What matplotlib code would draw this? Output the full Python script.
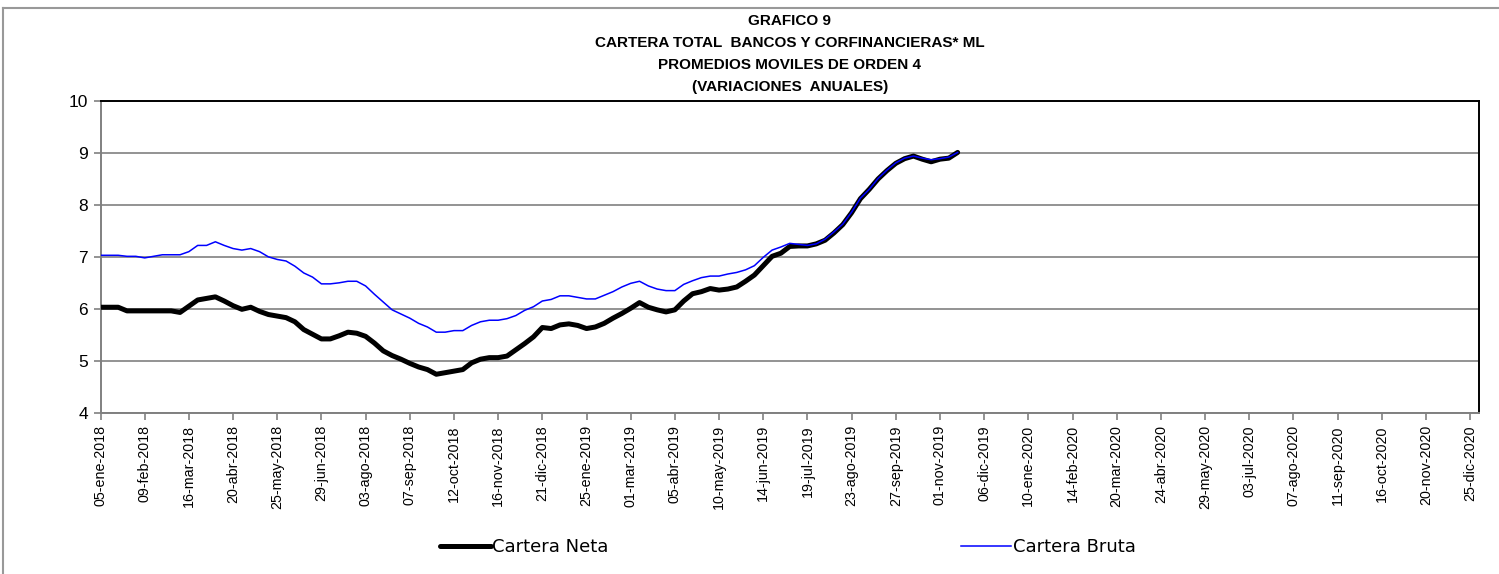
import matplotlib
matplotlib.use("Agg")
import matplotlib.pyplot as plt
from matplotlib.lines import Line2D

# weekly data, first week 05-ene-2018 (index 0), last 22-nov-2019
cartera_neta = [
    6.03, 6.03, 6.03, 5.96, 5.96, 5.96, 5.96, 5.96, 5.96, 5.93,
    6.05, 6.17, 6.20, 6.23, 6.15, 6.06, 5.99, 6.03, 5.95, 5.89,
    5.86, 5.83, 5.75, 5.60, 5.51, 5.42, 5.42, 5.48, 5.55, 5.53,
    5.47, 5.34, 5.19, 5.10, 5.03, 4.95, 4.88, 4.83, 4.74, 4.77,
    4.80, 4.83, 4.96, 5.03, 5.06, 5.06, 5.09, 5.21, 5.33, 5.46,
    5.64, 5.62, 5.69, 5.71, 5.68, 5.62, 5.65, 5.72, 5.82, 5.91,
    6.01, 6.12, 6.03, 5.98, 5.94, 5.98, 6.15, 6.29, 6.33, 6.39,
    6.36, 6.38, 6.42, 6.53, 6.65, 6.83, 7.01, 7.07, 7.20, 7.21,
    7.21, 7.25, 7.32, 7.46, 7.62, 7.85, 8.12, 8.30, 8.50, 8.66,
    8.80, 8.89, 8.94, 8.88, 8.83, 8.88, 8.90, 9.01,
]
cartera_bruta = [
    7.03, 7.03, 7.03, 7.01, 7.01, 6.98, 7.01, 7.04, 7.04, 7.04,
    7.10, 7.22, 7.22, 7.29, 7.22, 7.16, 7.13, 7.16, 7.10, 7.00,
    6.95, 6.92, 6.82, 6.69, 6.61, 6.48, 6.48, 6.50, 6.53, 6.53,
    6.44, 6.28, 6.13, 5.98, 5.90, 5.82, 5.72, 5.65, 5.55, 5.55,
    5.58, 5.58, 5.68, 5.75, 5.78, 5.78, 5.81, 5.87, 5.97, 6.04,
    6.15, 6.18, 6.25, 6.25, 6.22, 6.19, 6.19, 6.26, 6.33, 6.42,
    6.49, 6.53, 6.44, 6.38, 6.35, 6.35, 6.47, 6.54, 6.60, 6.63,
    6.63, 6.67, 6.70, 6.75, 6.83, 6.99, 7.13, 7.19, 7.26, 7.24,
    7.22, 7.25, 7.34, 7.48, 7.63, 7.86, 8.13, 8.30, 8.51, 8.67,
    8.81, 8.90, 8.94, 8.90, 8.87, 8.89, 8.92, 9.01,
]

# category axis labels, one every 5 weeks
tick_labels = [
    "05-ene-2018", "09-feb-2018", "16-mar-2018", "20-abr-2018", "25-may-2018",
    "29-jun-2018", "03-ago-2018", "07-sep-2018", "12-oct-2018", "16-nov-2018",
    "21-dic-2018", "25-ene-2019", "01-mar-2019", "05-abr-2019", "10-may-2019",
    "14-jun-2019", "19-jul-2019", "23-ago-2019", "27-sep-2019", "01-nov-2019",
    "06-dic-2019", "10-ene-2020", "14-feb-2020", "20-mar-2020", "24-abr-2020",
    "29-may-2020", "03-jul-2020", "07-ago-2020", "11-sep-2020", "16-oct-2020",
    "20-nov-2020", "25-dic-2020",
]
n_weeks = 157  # categories on the axis (through 01-ene-2021)

title_lines = [
    "GRAFICO 9",
    "CARTERA TOTAL  BANCOS Y CORFINANCIERAS* ML",
    "PROMEDIOS MOVILES DE ORDEN 4",
    "(VARIACIONES  ANUALES)",
]

W, H = 1499, 574
fig = plt.figure(figsize=(W / 100, H / 100), dpi=100)
ax = fig.add_axes([100.5 / W, 1 - 412.7 / H, (1479 - 100.5) / W, (412.7 - 101) / H])

weeks = list(range(len(cartera_neta)))
l1, = ax.plot(weeks, cartera_neta, color="black", lw=3.6, solid_capstyle="round",
              solid_joinstyle="round", label="Cartera Neta", zorder=3)
l2, = ax.plot(weeks, cartera_bruta, color="#0000ff", lw=1.1, label="Cartera Bruta", zorder=4)

ax.set_xlim(0, n_weeks - 1)
ax.set_ylim(4, 10)
ax.set_yticks(range(4, 11))
ax.set_xticks(range(0, 5 * len(tick_labels), 5))
ax.set_xticklabels(tick_labels, rotation=90, fontsize=10.3, family="Liberation Sans")
ax.tick_params(axis="y", labelsize=12.5, length=5, width=1.2, color="#808080", pad=4)
ax.tick_params(axis="x", length=5, width=1.2, color="#808080", pad=4)
for lab in ax.get_yticklabels():
    lab.set_family("Liberation Sans")

ax.grid(axis="y", color="#808080", lw=1.2)
ax.set_axisbelow(True)
for side in ("left", "bottom"):
    ax.spines[side].set_color("#808080")
    ax.spines[side].set_linewidth(1.4)
for side in ("top", "right"):
    ax.spines[side].set_color("black")
    ax.spines[side].set_linewidth(1.4)

# title, one line at a time
for k, txt in enumerate(title_lines):
    fig.text(790 / W, 1 - (21 + 22 * k) / H, txt, ha="center", va="center",
             fontsize=11, fontweight="bold", family="Liberation Sans")

fig.legend(handles=[l1, l2], loc="center left", bbox_to_anchor=(440 / W, 1 - 547 / H),
           frameon=False, ncol=2, borderpad=0, borderaxespad=0, handlelength=2.8,
           handletextpad=0.1, columnspacing=19.5,
           prop={"family": "DejaVu Sans", "size": 13})

# outer chart frame (top and left edges only)
fig.add_artist(Line2D([3 / W, 3 / W], [0, 1 - 8 / H], color="#999999", lw=1.5))
fig.add_artist(Line2D([3 / W, 1], [1 - 8 / H, 1 - 8 / H], color="#999999", lw=1.5))

fig.savefig("out.png", dpi=100)
